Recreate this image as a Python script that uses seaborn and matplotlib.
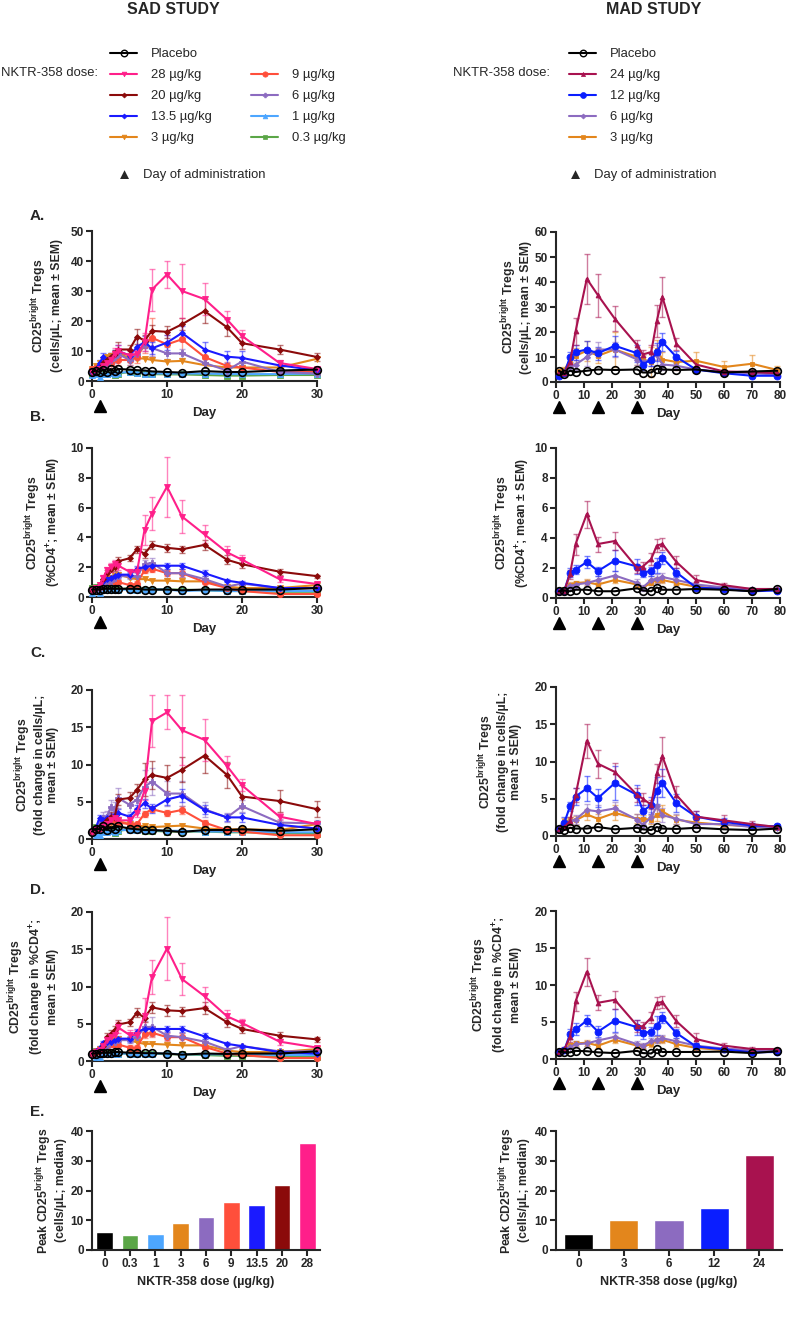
import matplotlib
matplotlib.use('Agg')
import matplotlib.pyplot as plt
import matplotlib.transforms as mtransforms
from matplotlib.lines import Line2D
import seaborn as sns

sns.set_style('ticks')
plt.rcParams['font.family'] = ['Liberation Sans', 'DejaVu Sans']
plt.rcParams['mathtext.fontset'] = 'custom'
plt.rcParams['mathtext.rm'] = 'Liberation Sans'
plt.rcParams['mathtext.bf'] = 'Liberation Sans:bold'
plt.rcParams['axes.linewidth'] = 1.5
plt.rcParams['xtick.major.width'] = 1.5
plt.rcParams['ytick.major.width'] = 1.5
plt.rcParams['xtick.major.size'] = 4
plt.rcParams['ytick.major.size'] = 4

# ---------------- data ----------------
sad_days = [0, 0.5, 1, 1.5, 2, 2.5, 3, 3.5, 5, 6, 7, 8, 10, 12, 15, 18, 20, 25, 30]
mad_days = [1, 3, 5, 7, 11, 15, 21, 29, 31, 34, 36, 38, 43, 50, 60, 70, 79]
sad_dose_days = [1]
mad_dose_days = [1, 15, 29]

# A. cells/uL
sad_a = {
    'Placebo': [3, 3.5, 3, 3.8, 3, 4, 3.2, 4, 3.8, 3.6, 3.5, 3.2, 3, 2.8, 3.3, 3, 3, 3.5, 3.8],
    '28': [3, 3.5, 4, 5, 6, 7, 9, 10, 8.5, 9, 13, 30.5, 35.5, 30, 27.3, 20.5, 15, 6, 4],
    '20': [3.5, 4, 4.5, 6, 7, 8, 9, 10.5, 10.5, 14.8, 13.5, 16.7, 16.4, 18.9, 23.3, 17.9, 12.6, 10.5, 8],
    '13.5': [3, 4, 6, 8, 7, 8, 9, 10, 8.5, 11.3, 13, 10.9, 12.8, 16, 10.5, 8.1, 7.7, 5.2, 3.6],
    '9': [4, 4.5, 5, 6, 7, 6, 8, 7, 7, 8, 12, 14.4, 12.2, 13.9, 8, 5, 4.5, 3, 3],
    '6': [3, 3.5, 4, 5, 5.5, 7, 8, 9, 7, 9, 12, 11, 9.2, 9.2, 6, 3.5, 6.5, 3, 2.5],
    '3': [4, 5, 6, 7, 8, 8.5, 9, 9.5, 7.5, 7.5, 7.5, 7, 6.5, 6.7, 5.3, 4.5, 4.5, 4.5, 7.4],
    '1': [2, 2.5, 1.5, 2.5, 2.2, 2.8, 2.5, 2.8, 3, 2.8, 2.5, 2.5, 2.5, 2.5, 2.5, 2.3, 2.3, 2.3, 2.5],
    '0.3': [2.5, 3, 2.8, 2.5, 2.2, 2.8, 2, 2.5, 3, 2.8, 2.5, 2.3, 2.2, 2.2, 2, 1.8, 1.8, 2, 2],
}
sad_a_sem = {
    '28': [0.5, 0.5, 0.8, 1, 1, 1.5, 2, 2, 1.5, 1.5, 3, 7, 4.5, 9, 5.3, 2.8, 2, 1, 0.5],
    '20': [0.5, 0.5, 0.8, 1, 1, 1.5, 1.5, 2.5, 1.5, 2.5, 2, 2, 2, 2, 4, 2.8, 2, 1.5, 1.2],
    '13.5': [0.5, 0.5, 1, 1.5, 1.5, 1.5, 1.5, 2, 2, 3, 2, 2, 2.5, 2.5, 2.5, 2, 2.3, 1.2, 0.8],
    '9': [0.5, 0.5, 0.8, 1, 1, 2, 1.5, 1.5, 1.5, 2, 2.5, 6.5, 3, 5, 2, 1.5, 1, 0.8, 0.5],
    '6': [0.5, 0.5, 0.8, 1, 1.5, 1.5, 2, 2, 1.5, 2, 2, 2.5, 2, 1.5, 1.5, 1, 1.5, 0.8, 0.5],
}
mad_a = {
    'Placebo': [4.5, 3.2, 4.5, 4, 4.5, 5, 4.8, 5, 3.8, 3.8, 5.3, 5, 4.8, 5, 3.8, 4.2, 4.5],
    '24': [4, 3.5, 8, 20.3, 41.3, 34.7, 25.3, 14.7, 11, 12, 24.4, 34, 15.3, 7, 4.2, 4, 3.5],
    '12': [2.5, 3.5, 10, 12, 13, 11.5, 14.5, 11.5, 7, 9, 12, 16, 10, 5, 3.5, 2.5, 2.5],
    '6': [3, 3.5, 6, 7, 10, 13, 13, 9, 8, 9, 11, 7, 6.5, 5, 4, 3.5, 3],
    '3': [4.5, 5, 8.5, 10.5, 12.5, 10.5, 13, 10, 9, 8, 13, 9, 8, 8.5, 6, 7.3, 4.8],
}
mad_a_sem = {
    '24': [0.5, 0.5, 2, 5.5, 10, 8.5, 5, 2, 2, 3, 6.5, 8, 2.5, 1.5, 0.8, 0.8, 0.5],
    '12': [0.5, 0.5, 2, 3, 3.5, 2.5, 4, 3.5, 2, 2.5, 3.5, 3.5, 2.5, 1, 0.5, 0.5, 0.5],
    '6': [0.5, 0.5, 1.5, 2, 3.5, 3, 3, 2, 2, 2.5, 4, 2, 1.5, 1, 0.8, 0.5, 0.5],
    '3': [0.5, 1, 2, 3, 4, 3, 7, 3, 2, 6, 4, 3, 3, 3.5, 2.5, 3.7, 1.5],
}

# B. %CD4+
sad_b = {
    'Placebo': [0.5, 0.5, 0.5, 0.55, 0.55, 0.55, 0.55, 0.55, 0.55, 0.55, 0.5, 0.5, 0.5, 0.45, 0.5, 0.5, 0.5, 0.5, 0.6],
    '28': [0.5, 0.6, 0.8, 1.3, 1.8, 2.0, 2.2, 2.1, 1.7, 1.7, 4.5, 5.6, 7.4, 5.4, 4.2, 3.0, 2.5, 1.2, 0.87],
    '20': [0.5, 0.6, 0.8, 1.2, 1.6, 1.9, 2.0, 2.4, 2.6, 3.2, 2.9, 3.5, 3.3, 3.2, 3.5, 2.5, 2.2, 1.7, 1.4],
    '13.5': [0.5, 0.6, 0.8, 1.1, 1.2, 1.3, 1.4, 1.5, 1.5, 1.9, 2.0, 2.1, 2.1, 2.1, 1.6, 1.1, 0.95, 0.6, 0.6],
    '9': [0.5, 0.6, 0.7, 0.9, 1.0, 1.2, 1.0, 1.0, 0.8, 0.9, 1.8, 1.9, 1.6, 1.6, 1.0, 0.6, 0.4, 0.2, 0.2],
    '6': [0.5, 0.5, 0.6, 0.8, 1.0, 1.1, 1.3, 1.4, 1.4, 1.4, 2.2, 2.3, 1.6, 1.6, 1.2, 0.7, 0.9, 0.6, 0.6],
    '3': [0.5, 0.6, 0.8, 1.0, 1.2, 1.3, 1.4, 1.5, 1.3, 1.2, 1.2, 1.1, 1.1, 1.05, 1.05, 0.7, 0.6, 0.6, 0.8],
    '1': [0.3, 0.4, 0.3, 0.5, 0.5, 0.5, 0.5, 0.5, 0.5, 0.5, 0.5, 0.5, 0.5, 0.4, 0.45, 0.4, 0.4, 0.4, 0.4],
    '0.3': [0.6, 0.7, 0.6, 0.6, 0.6, 0.6, 0.6, 0.5, 0.6, 0.5, 0.5, 0.5, 0.5, 0.5, 0.45, 0.4, 0.4, 0.35, 0.35],
}
sad_b_sem = {
    '28': [0.05, 0.1, 0.1, 0.2, 0.2, 0.3, 0.3, 0.3, 0.2, 0.3, 1.0, 1.1, 2.0, 1.1, 0.6, 0.4, 0.3, 0.2, 0.1],
    '20': [0.05, 0.1, 0.1, 0.2, 0.2, 0.25, 0.25, 0.3, 0.2, 0.25, 0.3, 0.25, 0.25, 0.25, 0.35, 0.3, 0.25, 0.2, 0.1],
    '13.5': [0.05, 0.05, 0.1, 0.1, 0.1, 0.15, 0.15, 0.2, 0.2, 0.2, 0.2, 0.2, 0.2, 0.2, 0.2, 0.1, 0.1, 0.1, 0.1],
    '9': [0.05, 0.05, 0.1, 0.1, 0.1, 0.15, 0.15, 0.15, 0.1, 0.15, 0.2, 0.25, 0.2, 0.25, 0.15, 0.1, 0.1, 0.05, 0.05],
    '6': [0.05, 0.05, 0.1, 0.1, 0.1, 0.2, 0.2, 0.2, 0.2, 0.2, 0.3, 0.35, 0.3, 0.25, 0.2, 0.1, 0.1, 0.1, 0.1],
}
mad_b = {
    'Placebo': [0.45, 0.5, 0.45, 0.55, 0.55, 0.45, 0.45, 0.65, 0.5, 0.45, 0.7, 0.55, 0.55, 0.6, 0.55, 0.45, 0.6],
    '24': [0.5, 0.5, 1.6, 3.6, 5.6, 3.6, 3.8, 2.0, 2.1, 2.6, 3.5, 3.6, 2.4, 1.2, 0.85, 0.6, 0.6],
    '12': [0.5, 0.5, 1.7, 1.9, 2.4, 1.8, 2.5, 2.1, 1.7, 1.8, 2.2, 2.7, 1.7, 0.7, 0.6, 0.45, 0.5],
    '6': [0.5, 0.5, 0.8, 0.9, 1.0, 1.2, 1.5, 1.0, 0.7, 1.2, 1.3, 1.4, 1.2, 0.9, 0.7, 0.6, 0.6],
    '3': [0.5, 0.6, 0.9, 1.0, 1.05, 0.9, 1.2, 0.9, 0.7, 1.0, 1.2, 1.2, 1.0, 0.75, 0.6, 0.55, 0.55],
}
mad_b_sem = {
    '24': [0.05, 0.05, 0.3, 0.7, 0.9, 0.5, 0.6, 0.3, 0.3, 0.4, 0.45, 0.4, 0.4, 0.35, 0.15, 0.1, 0.1],
    '12': [0.05, 0.05, 0.3, 0.3, 0.4, 0.3, 0.7, 0.5, 0.3, 0.3, 0.5, 0.4, 0.3, 0.15, 0.1, 0.1, 0.1],
    '6': [0.05, 0.05, 0.2, 0.2, 0.2, 0.3, 0.3, 0.3, 0.2, 0.3, 0.3, 0.3, 0.25, 0.2, 0.1, 0.1, 0.1],
    '3': [0.05, 0.1, 0.15, 0.15, 0.2, 0.15, 0.2, 0.15, 0.1, 0.15, 0.2, 0.2, 0.15, 0.1, 0.1, 0.05, 0.05],
}

# C. fold change in cells/uL
sad_c = {
    'Placebo': [1.0, 1.4, 1.3, 1.7, 1.2, 1.6, 1.4, 1.7, 1.4, 1.3, 1.2, 1.2, 1.1, 0.95, 1.2, 1.2, 1.3, 1.1, 1.3],
    '28': [1.0, 1.2, 1.3, 1.8, 2.0, 2.5, 2.8, 2.5, 2.5, 3.5, 6.5, 15.8, 17, 14.6, 13.3, 9.8, 7.2, 3.0, 2.0],
    '20': [1.0, 1.3, 1.5, 2.0, 2.5, 3.0, 2.8, 5.3, 5.5, 6.6, 8.0, 8.6, 8.2, 9.3, 11.2, 8.6, 5.7, 5.1, 4.0],
    '13.5': [1.0, 1.5, 2.8, 2.6, 2.8, 3.0, 3.2, 3.5, 3.0, 4.0, 4.8, 4.1, 5.3, 5.8, 3.9, 2.9, 2.9, 1.9, 1.4],
    '9': [1.0, 1.3, 1.5, 1.8, 2.2, 2.8, 2.5, 2.2, 2.0, 2.0, 3.4, 4.0, 3.5, 3.9, 2.2, 1.2, 1.0, 0.5, 0.5],
    '6': [1.0, 1.5, 2.0, 2.8, 3.0, 4.3, 4.0, 5.5, 4.6, 5.3, 7.0, 7.7, 6.1, 6.1, 4.0, 2.9, 4.4, 2.2, 2.1],
    '3': [1.0, 1.2, 1.5, 1.8, 2.0, 2.2, 2.4, 2.4, 2.0, 1.8, 1.7, 1.6, 1.7, 1.8, 1.4, 1.3, 1.3, 1.2, 2.0],
    '1': [1.0, 0.6, 0.5, 1.0, 1.0, 1.1, 1.0, 1.2, 1.2, 1.2, 1.2, 1.2, 1.1, 1.1, 1.0, 1.0, 1.0, 0.9, 0.9],
    '0.3': [1.0, 1.6, 1.5, 1.3, 1.2, 1.3, 0.8, 1.1, 1.3, 1.2, 1.1, 1.1, 1.0, 1.0, 1.0, 0.9, 0.9, 0.8, 0.7],
}
sad_c_sem = {
    '28': [0.1, 0.2, 0.3, 0.4, 0.4, 0.5, 0.5, 0.5, 0.5, 0.6, 1.2, 3.5, 2.3, 4.7, 2.8, 1.4, 0.8, 0.5, 0.3],
    '20': [0.1, 0.2, 0.3, 0.4, 0.5, 0.6, 0.6, 0.8, 0.8, 0.8, 2.2, 1.9, 1.7, 1.7, 2.4, 1.8, 1.5, 1.5, 1.1],
    '13.5': [0.1, 0.2, 0.4, 0.4, 0.4, 0.5, 0.5, 0.5, 0.4, 0.5, 0.6, 0.6, 0.8, 0.9, 0.6, 0.5, 0.6, 0.4, 0.3],
    '9': [0.1, 0.2, 0.3, 0.3, 0.4, 0.4, 0.4, 0.4, 0.3, 0.3, 0.4, 0.4, 0.4, 0.5, 0.3, 0.2, 0.2, 0.1, 0.1],
    '6': [0.1, 0.3, 0.5, 0.8, 0.8, 1.0, 1.0, 1.3, 1.0, 1.2, 2.3, 1.8, 1.7, 1.7, 1.0, 0.6, 0.8, 0.5, 0.5],
}
mad_c = {
    'Placebo': [1.0, 0.8, 1.1, 1.0, 1.0, 1.2, 0.9, 1.1, 0.9, 0.8, 1.2, 1.0, 0.95, 1.1, 0.9, 0.8, 1.0],
    '24': [1.0, 1.2, 2.0, 5.5, 12.8, 9.7, 8.6, 5.5, 5.0, 4.2, 8.4, 10.7, 5.5, 2.6, 2.1, 1.6, 1.2],
    '12': [1.0, 1.8, 4.0, 5.3, 6.4, 5.1, 7.1, 5.5, 3.4, 4.1, 6.1, 7.1, 4.4, 2.6, 1.9, 1.4, 1.3],
    '6': [1.0, 1.5, 2.0, 2.2, 3.5, 3.3, 3.7, 2.2, 1.5, 2.5, 4.0, 2.8, 2.3, 1.6, 1.6, 1.2, 1.1],
    '3': [1.0, 2.0, 2.1, 2.1, 2.9, 2.3, 3.1, 2.3, 2.3, 2.2, 2.8, 3.3, 2.2, 1.8, 1.5, 1.3, 1.1],
}
mad_c_sem = {
    '24': [0.1, 0.3, 0.5, 1.0, 2.3, 1.9, 1.2, 1.0, 0.8, 0.6, 1.3, 2.6, 1.2, 0.8, 0.7, 0.4, 0.3],
    '12': [0.1, 0.7, 0.6, 1.1, 1.7, 1.2, 2.3, 1.4, 0.8, 1.2, 1.8, 1.9, 1.2, 0.7, 0.5, 0.3, 0.3],
    '6': [0.1, 0.3, 0.4, 0.6, 0.8, 0.8, 0.9, 0.8, 0.5, 0.7, 1.2, 0.9, 0.7, 0.5, 0.4, 0.3, 0.2],
    '3': [0.1, 0.4, 0.5, 0.6, 0.7, 0.6, 1.0, 0.6, 0.5, 0.6, 0.8, 0.8, 0.6, 0.4, 0.3, 0.3, 0.2],
}

# D. fold change in %CD4+
sad_d = {
    'Placebo': [1.0, 1.0, 1.1, 1.1, 1.1, 1.1, 1.2, 1.2, 1.1, 1.1, 1.05, 1.05, 1.0, 0.85, 1.0, 0.95, 1.0, 1.0, 1.3],
    '28': [1.0, 1.2, 1.5, 2.0, 2.8, 3.2, 3.5, 4.5, 3.5, 3.5, 6.0, 11.3, 15.1, 11.0, 8.7, 6.0, 5.1, 2.6, 1.8],
    '20': [1.0, 1.1, 1.3, 2.0, 3.2, 3.6, 4.2, 4.9, 5.2, 6.5, 5.8, 7.2, 6.8, 6.7, 7.1, 5.2, 4.3, 3.4, 2.9],
    '13.5': [1.0, 1.3, 1.8, 2.4, 2.5, 2.6, 2.8, 3.0, 3.0, 3.9, 4.3, 4.3, 4.3, 4.3, 3.3, 2.3, 2.0, 1.2, 1.0],
    '9': [1.0, 1.3, 1.5, 1.8, 2.0, 2.3, 2.2, 2.2, 1.8, 1.8, 3.6, 3.8, 3.2, 3.2, 1.9, 1.0, 0.8, 0.4, 0.4],
    '6': [1.0, 1.2, 1.4, 1.8, 2.0, 2.5, 2.6, 2.8, 2.8, 3.2, 4.5, 4.6, 3.4, 3.2, 2.6, 1.5, 2.0, 1.3, 1.3],
    '3': [1.0, 1.2, 1.6, 1.9, 2.3, 2.6, 2.8, 2.9, 2.8, 2.5, 2.3, 2.3, 2.2, 2.1, 2.1, 1.4, 1.2, 1.2, 1.6],
    '1': [1.0, 0.6, 0.5, 1.0, 1.0, 1.0, 1.0, 1.0, 1.0, 1.0, 1.0, 1.0, 1.0, 0.9, 0.9, 0.9, 0.9, 0.8, 0.8],
    '0.3': [1.0, 1.4, 1.3, 1.3, 1.2, 1.2, 0.9, 1.0, 1.0, 1.0, 1.0, 1.0, 0.9, 0.9, 0.8, 0.7, 0.7, 0.6, 0.6],
}
sad_d_sem = {
    '28': [0.1, 0.2, 0.3, 0.4, 0.5, 0.6, 0.6, 0.7, 0.6, 0.6, 2.5, 2.3, 4.2, 2.2, 1.3, 0.9, 0.5, 0.4, 0.2],
    '20': [0.1, 0.2, 0.2, 0.3, 0.5, 0.5, 0.5, 0.6, 0.5, 0.6, 0.6, 0.7, 0.7, 0.6, 0.8, 0.6, 0.5, 0.5, 0.3],
    '13.5': [0.1, 0.1, 0.2, 0.3, 0.3, 0.3, 0.3, 0.4, 0.4, 0.4, 0.4, 0.4, 0.4, 0.4, 0.4, 0.2, 0.2, 0.2, 0.1],
    '9': [0.1, 0.1, 0.2, 0.3, 0.3, 0.3, 0.3, 0.3, 0.3, 0.3, 0.5, 0.6, 0.5, 0.6, 0.3, 0.2, 0.2, 0.1, 0.1],
    '6': [0.1, 0.1, 0.2, 0.3, 0.3, 0.4, 0.4, 0.4, 0.4, 0.5, 0.9, 1.3, 0.6, 0.6, 0.4, 0.2, 0.2, 0.2, 0.2],
}
mad_d = {
    'Placebo': [1.0, 0.9, 0.9, 1.1, 1.05, 0.9, 0.8, 1.1, 0.8, 0.75, 1.3, 0.95, 0.95, 0.95, 1.0, 0.8, 1.05],
    '24': [1.0, 1.3, 3.0, 7.8, 11.8, 7.6, 8.0, 4.5, 4.4, 5.6, 7.6, 7.7, 5.1, 2.7, 1.8, 1.35, 1.35],
    '12': [1.0, 1.2, 3.4, 4.0, 5.2, 3.7, 5.2, 4.3, 3.5, 3.7, 4.5, 5.6, 3.5, 1.7, 1.3, 0.9, 0.95],
    '6': [1.0, 1.2, 1.6, 2.0, 2.1, 2.5, 3.0, 2.0, 1.8, 2.4, 2.6, 2.8, 2.4, 1.8, 1.4, 1.2, 1.2],
    '3': [1.0, 1.3, 1.9, 2.1, 2.2, 1.8, 2.6, 1.8, 1.7, 2.0, 2.6, 2.6, 2.0, 1.5, 1.2, 1.2, 1.1],
}
mad_d_sem = {
    '24': [0.1, 0.3, 0.7, 1.3, 1.9, 1.0, 1.2, 0.8, 0.6, 0.8, 0.8, 0.8, 0.8, 0.8, 0.4, 0.3, 0.2],
    '12': [0.1, 0.3, 0.7, 0.8, 0.7, 0.7, 1.5, 1.0, 0.8, 0.6, 1.3, 0.8, 0.6, 0.4, 0.3, 0.2, 0.2],
    '6': [0.1, 0.2, 0.3, 0.4, 0.4, 0.4, 0.5, 0.4, 0.3, 0.4, 0.5, 0.5, 0.4, 0.3, 0.2, 0.2, 0.2],
    '3': [0.1, 0.2, 0.3, 0.3, 0.4, 0.3, 0.5, 0.3, 0.3, 0.4, 0.5, 0.5, 0.4, 0.3, 0.2, 0.2, 0.1],
}

# E. peak (median)
sad_doses = ['0', '0.3', '1', '3', '6', '9', '13.5', '20', '28']
sad_peak = [6, 5, 5.5, 9, 11, 16, 15, 22, 36]
mad_doses = ['0', '3', '6', '12', '24']
mad_peak = [5.5, 10, 10, 14, 32]

# ---------------- styles ----------------
sad_style = {
    '0.3': ('#5BA647', 's', 4),
    '1': ('#4DA6FF', '^', 4),
    '3': ('#E3861C', 'v', 4),
    '9': ('#FF4F3B', 'o', 4.5),
    '6': ('#8C6BC0', 'P', 4),
    '13.5': ('#1A1AFF', 'D', 3),
    '20': ('#8B0A0A', 'D', 3),
    '28': ('#FF1F8A', 'v', 4),
    'Placebo': ('black', 'o', 5.5),
}
mad_style = {
    '3': ('#E3861C', 's', 3.5),
    '6': ('#8C6BC0', 'D', 3),
    '12': ('#0A1EFF', 'o', 5),
    '24': ('#A8124F', '^', 3.5),
    'Placebo': ('black', 'o', 5.5),
}
sad_order = ['0.3', '1', '3', '9', '6', '13.5', '20', '28', 'Placebo']
mad_order = ['3', '6', '12', '24', 'Placebo']
sad_bar_colors = ['black', '#5BA647', '#4DA6FF', '#E3861C', '#8C6BC0', '#FF4F3B', '#1A1AFF', '#8B0A0A', '#FF1F8A']
mad_bar_colors = ['black', '#E3861C', '#8C6BC0', '#0A1EFF', '#A8124F']

TICK_FS = 8.5
LAB_FS = 8.8
LEG_FS = 9.4


def style_axis(ax):
    sns.despine(ax=ax)
    for lab in ax.get_xticklabels() + ax.get_yticklabels():
        lab.set_fontweight('bold')
        lab.set_fontsize(TICK_FS)
    ax.tick_params(axis='both', pad=2, length=4, width=1.5)


def draw_time(ax, days, means, sems, styles, order, ylim, yticks, xlim, xticks, dose_days, ylabel, lab_x):
    for key in order:
        color, marker, ms = styles[key]
        if key in sems:
            ax.errorbar(days, means[key], yerr=sems[key], fmt='none', ecolor=color,
                        alpha=0.55, elinewidth=1, capsize=2.5, capthick=1, clip_on=False)
        placebo = key == 'Placebo'
        sns.lineplot(x=days, y=means[key], ax=ax, color=color, marker=marker,
                     markersize=ms, markerfacecolor='none' if placebo else color,
                     markeredgecolor=color, markeredgewidth=1.2 if placebo else 0.6,
                     linewidth=1.5, clip_on=False, zorder=5 if placebo else 3)
    ax.set_xlim(*xlim)
    ax.set_ylim(*ylim)
    ax.set_xticks(xticks)
    ax.set_yticks(yticks)
    ax.set_xlabel('Day', fontsize=9.5, fontweight='bold', labelpad=4)
    ax.set_ylabel(ylabel, fontsize=LAB_FS, fontweight='bold', linespacing=1.15)
    ax.yaxis.set_label_coords(lab_x, 0.5)
    trans = mtransforms.blended_transform_factory(ax.transData, ax.transAxes)
    ax.plot(dose_days, [-0.165] * len(dose_days), '^', color='black', ms=8,
            transform=trans, clip_on=False)
    style_axis(ax)


def draw_bars(ax, doses, peaks, colors, lab_x):
    sns.barplot(x=doses, y=peaks, hue=doses, palette=colors, legend=False,
                width=0.65, order=doses, hue_order=doses, ax=ax, saturation=1)
    ax.set_ylim(0, 40)
    ax.set_yticks([0, 10, 20, 30, 40])
    ax.set_xlabel('NKTR-358 dose (µg/kg)', fontsize=9, fontweight='bold', labelpad=4)
    ax.set_ylabel('Peak CD25$^{\\mathregular{bright}}$ Tregs\n(cells/µL; median)',
                  fontsize=LAB_FS, fontweight='bold', linespacing=1.15)
    ax.yaxis.set_label_coords(lab_x, 0.5)
    style_axis(ax)


fig = plt.figure(figsize=(7.9, 13.23), dpi=100)
H = 1323.0
W = 790.0


def add_ax(x0, x1, ytop, ybot):
    return fig.add_axes([x0 / W, 1 - ybot / H, (x1 - x0) / W, (ybot - ytop) / H])


ylab_a = 'CD25$^{\\mathregular{bright}}$ Tregs\n(cells/µL; mean ± SEM)'
ylab_b = 'CD25$^{\\mathregular{bright}}$ Tregs\n(%CD4$^{\\mathregular{+}}$; mean ± SEM)'
ylab_c = 'CD25$^{\\mathregular{bright}}$ Tregs\n(fold change in cells/µL;\nmean ± SEM)'
ylab_d = 'CD25$^{\\mathregular{bright}}$ Tregs\n(fold change in %CD4$^{\\mathregular{+}}$;\nmean ± SEM)'

sad_x = (92, 317)
mad_x = (556, 780)

# A
ax = add_ax(*sad_x, 231, 381)
draw_time(ax, sad_days, sad_a, sad_a_sem, sad_style, sad_order, (0, 50), range(0, 51, 10),
          (0, 30), [0, 10, 20, 30], sad_dose_days, ylab_a, -0.13)
ax = add_ax(*mad_x, 232, 382)
draw_time(ax, mad_days, mad_a, mad_a_sem, mad_style, mad_order, (0, 60), range(0, 61, 10),
          (0, 80), range(0, 81, 10), mad_dose_days, ylab_a, -0.105)
# B
ax = add_ax(*sad_x, 448, 597)
draw_time(ax, sad_days, sad_b, sad_b_sem, sad_style, sad_order, (0, 10), range(0, 11, 2),
          (0, 30), [0, 10, 20, 30], sad_dose_days, ylab_b, -0.13)
ax = add_ax(*mad_x, 448, 598)
draw_time(ax, mad_days, mad_b, mad_b_sem, mad_style, mad_order, (0, 10), range(0, 11, 2),
          (0, 80), range(0, 81, 10), mad_dose_days, ylab_b, -0.105)
# C
ax = add_ax(*sad_x, 690, 839)
draw_time(ax, sad_days, sad_c, sad_c_sem, sad_style, sad_order, (0, 20), range(0, 21, 5),
          (0, 30), [0, 10, 20, 30], sad_dose_days, ylab_c, -0.145)
ax = add_ax(*mad_x, 687, 836)
draw_time(ax, mad_days, mad_c, mad_c_sem, mad_style, mad_order, (0, 20), range(0, 21, 5),
          (0, 80), range(0, 81, 10), mad_dose_days, ylab_c, -0.15)
# D
ax = add_ax(*sad_x, 912, 1061)
draw_time(ax, sad_days, sad_d, sad_d_sem, sad_style, sad_order, (0, 20), range(0, 21, 5),
          (0, 30), [0, 10, 20, 30], sad_dose_days, ylab_d, -0.145)
ax = add_ax(*mad_x, 911, 1059)
draw_time(ax, mad_days, mad_d, mad_d_sem, mad_style, mad_order, (0, 20), range(0, 21, 5),
          (0, 80), range(0, 81, 10), mad_dose_days, ylab_d, -0.15)
# E
ax = add_ax(92, 320, 1131, 1250)
draw_bars(ax, sad_doses, sad_peak, sad_bar_colors, -0.11)
ax = add_ax(556, 782, 1131, 1250)
draw_bars(ax, mad_doses, mad_peak, mad_bar_colors, -0.115)

# panel letters
for letter, y in [('A.', 216), ('B.', 417), ('C.', 653), ('D.', 890), ('E.', 1112)]:
    fig.text(30 / W, 1 - y / H, letter, fontsize=11, fontweight='bold', va='center', ha='left')

# titles
fig.text(173 / W, 1 - 9 / H, 'SAD STUDY', fontsize=11.5, fontweight='bold', ha='center', va='center')
fig.text(654 / W, 1 - 9 / H, 'MAD STUDY', fontsize=11.5, fontweight='bold', ha='center', va='center')


# legends
def legend_handle(style, key):
    color, marker, ms = style[key]
    placebo = key == 'Placebo'
    return Line2D([], [], color=color, marker=marker, markersize=ms * 0.85,
                  markerfacecolor='none' if placebo else color, markeredgecolor=color,
                  markeredgewidth=1.0 if placebo else 0.5, linewidth=1.5)


sad_leg_keys = ['Placebo', '28', '20', '13.5', '3', None, '9', '6', '1', '0.3']
handles, labels = [], []
for k in sad_leg_keys:
    if k is None:
        handles.append(Line2D([], [], color='none'))
        labels.append('')
    else:
        handles.append(legend_handle(sad_style, k))
        labels.append('Placebo' if k == 'Placebo' else f'{k} µg/kg')
fig.legend(handles, labels, loc='upper left', bbox_to_anchor=(110 / W, 1 - 48 / H), ncol=2,
           frameon=False, fontsize=LEG_FS, borderpad=0, borderaxespad=0, handlelength=2.07,
           handletextpad=1.07, columnspacing=3.0, labelspacing=0.68)

mad_leg_keys = ['Placebo', '24', '12', '6', '3']
handles = [legend_handle(mad_style, k) for k in mad_leg_keys]
labels = ['Placebo' if k == 'Placebo' else f'{k} µg/kg' for k in mad_leg_keys]
fig.legend(handles, labels, loc='upper left', bbox_to_anchor=(569 / W, 1 - 48 / H), ncol=1,
           frameon=False, fontsize=LEG_FS, borderpad=0, borderaxespad=0, handlelength=2.07,
           handletextpad=1.07, labelspacing=0.68)

fig.text(1 / W, 1 - 73 / H, 'NKTR-358 dose:', fontsize=LEG_FS, ha='left', va='center')
fig.text(453 / W, 1 - 73 / H, 'NKTR-358 dose:', fontsize=LEG_FS, ha='left', va='center')
fig.text(124 / W, 1 - 175 / H, '▲', fontsize=11, ha='center', va='center')
fig.text(143 / W, 1 - 175 / H, 'Day of administration', fontsize=LEG_FS, ha='left', va='center')
fig.text(575 / W, 1 - 175 / H, '▲', fontsize=11, ha='center', va='center')
fig.text(594 / W, 1 - 175 / H, 'Day of administration', fontsize=LEG_FS, ha='left', va='center')

fig.savefig('out.png', dpi=100)
plt.close(fig)
